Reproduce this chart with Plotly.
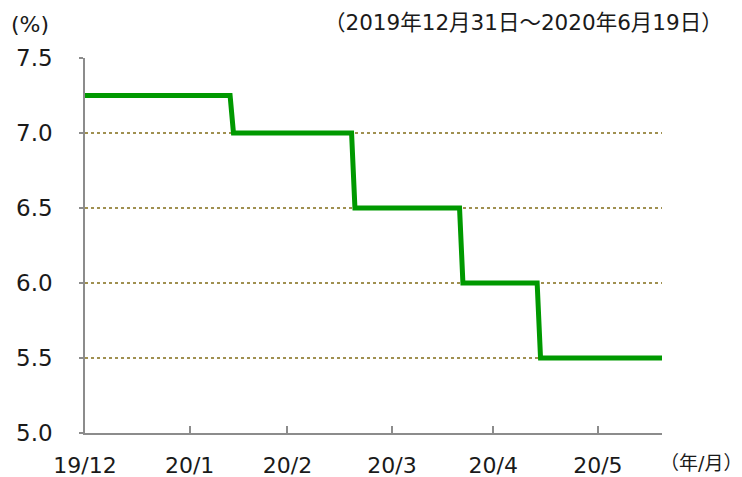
import plotly.graph_objects as go

# Policy rate, daily points around each change (2019/12/31 - 2020/6/19)
dates = ["2019-12-31", "2020-02-12", "2020-02-13", "2020-03-19", "2020-03-20",
         "2020-04-20", "2020-04-21", "2020-05-13", "2020-05-14", "2020-06-19"]
rates = [7.25, 7.25, 7.00, 7.00, 6.50, 6.50, 6.00, 6.00, 5.50, 5.50]

# x-axis ticks at month ends
tick_dates = ["2019-12-31", "2020-01-31", "2020-02-29", "2020-03-31", "2020-04-30", "2020-05-31"]
tick_labels = ["19/12", "20/1", "20/2", "20/3", "20/4", "20/5"]

y_ticks = [5.0, 5.5, 6.0, 6.5, 7.0, 7.5]
y_labels = ["5.0", "5.5", "6.0", "6.5", "7.0", "7.5"]

num_font = "DejaVu Sans, Noto Sans CJK JP"
axis_grey = "#8c8c8c"
text_col = "#1a1a1a"

fig = go.Figure()
fig.add_trace(go.Scatter(
    x=dates, y=rates, mode="lines",
    line=dict(color="#009900", width=5),
    showlegend=False, hoverinfo="skip"
))

fig.update_layout(
    width=742, height=477,
    margin=dict(l=85, r=80, t=58, b=44),
    plot_bgcolor="white", paper_bgcolor="white",
    font=dict(family=num_font, color=text_col),
)

fig.update_xaxes(
    type="date", range=["2019-12-31", "2020-06-19"],
    tickmode="array", tickvals=tick_dates, ticktext=tick_labels,
    showgrid=False, zeroline=False, automargin=False,
    showline=True, linecolor=axis_grey, linewidth=1.5,
    ticks="inside", ticklen=7, tickcolor=axis_grey, tickwidth=1.5,
    tickfont=dict(size=22, color=text_col),
    ticklabelstandoff=12,
)

fig.update_yaxes(
    range=[5.0, 7.5],
    tickmode="array", tickvals=y_ticks, ticktext=y_labels,
    showgrid=True, gridcolor="#a09050", griddash="dot", gridwidth=1.5,
    zeroline=False, automargin=False,
    showline=True, linecolor=axis_grey, linewidth=1.5,
    ticks="outside", ticklen=4, tickcolor=axis_grey, tickwidth=1.5,
    tickfont=dict(size=23, color=text_col),
    ticklabelstandoff=22,
)

# unit labels and period note
fig.add_annotation(text="(%)", xref="paper", yref="paper", x=-0.095, y=1.088,
                   xanchor="center", yanchor="middle", showarrow=False,
                   font=dict(size=22, family=num_font, color=text_col))
fig.add_annotation(text="（2019年12月31日～2020年6月19日）", xref="paper", yref="paper",
                   x=1.11, y=1.094, xanchor="right", yanchor="middle", showarrow=False,
                   font=dict(size=21.5, family=num_font, color=text_col))
fig.add_annotation(text="（年/月）", xref="paper", yref="paper", x=1.067, y=-0.114,
                   xanchor="center", yanchor="bottom", showarrow=False,
                   font=dict(size=19, family=num_font, color=text_col))

fig.write_html("out.html", config={"displayModeBar": False},
               post_script="document.body.style.margin='0';")
